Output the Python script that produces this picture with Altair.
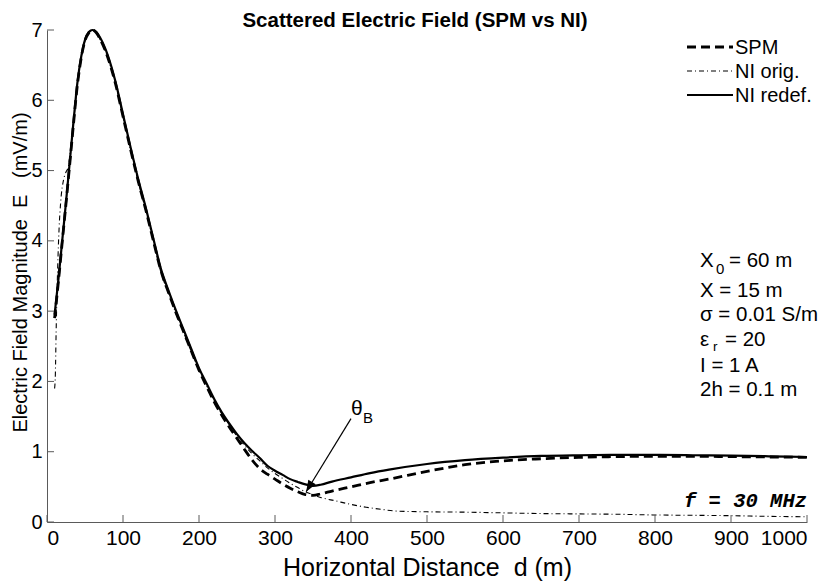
import altair as alt
import pandas as pd

# ---------------- data ----------------
d_main = [10, 15, 20, 25, 30, 35, 40, 45, 50, 55, 60, 65, 70, 80, 90, 100, 110, 120, 130, 140,
          150, 160, 170, 180, 190, 200, 210, 220, 230, 240, 250, 260, 270, 280, 290, 300, 310,
          320, 330, 340, 350, 360, 375, 400, 425, 450, 500, 550, 600, 650, 700, 750, 800, 850,
          900, 950, 1000]
e_redef = [2.95, 3.45, 4.0, 4.55, 5.13, 5.71, 6.25, 6.62, 6.86, 6.97, 7.0, 6.97, 6.89, 6.64, 6.27,
           5.80, 5.33, 4.88, 4.47, 4.03, 3.60, 3.29, 3.0, 2.73, 2.46, 2.19, 1.97, 1.75, 1.56, 1.40,
           1.25, 1.12, 1.01, 0.91, 0.80, 0.73, 0.67, 0.61, 0.57, 0.535, 0.515, 0.53, 0.575, 0.635,
           0.695, 0.745, 0.825, 0.88, 0.915, 0.94, 0.95, 0.955, 0.955, 0.95, 0.945, 0.935, 0.925]
e_spm = [2.9, 3.42, 3.98, 4.53, 5.1, 5.68, 6.22, 6.6, 6.85, 6.96, 7.0, 6.96, 6.87, 6.61, 6.24,
         5.77, 5.30, 4.85, 4.44, 4.00, 3.57, 3.26, 2.97, 2.70, 2.43, 2.16, 1.93, 1.71, 1.52, 1.35,
         1.19, 1.03, 0.88, 0.76, 0.68, 0.61, 0.54, 0.48, 0.43, 0.39, 0.38, 0.40, 0.44, 0.50,
         0.56, 0.61, 0.72, 0.815, 0.87, 0.90, 0.92, 0.93, 0.935, 0.935, 0.93, 0.925, 0.92]
d_orig = [10, 11, 12, 14, 16, 18, 22, 25, 28, 30, 35, 40, 45, 50, 55, 60, 65, 70, 80, 90,
          100, 110, 120, 130, 140, 150, 160, 170, 180, 190, 200, 210, 220, 230, 240, 250, 260,
          270, 280, 290, 300, 310, 320, 330, 340, 350, 360, 380, 400, 420, 440, 460, 500, 550,
          600, 650, 700, 750, 800, 850, 900, 950, 1000]
e_orig = [1.9, 2.1, 2.7, 3.6, 4.2, 4.55, 4.88, 4.98, 5.05, 5.2, 5.70, 6.24, 6.6, 6.85, 6.96,
          7.0, 6.96, 6.86, 6.6, 6.24, 5.76, 5.29, 4.84, 4.43, 3.99, 3.55, 3.25, 2.96, 2.69, 2.42,
          2.16, 1.94, 1.72, 1.54, 1.38, 1.22, 1.09, 0.97, 0.87, 0.77, 0.69, 0.62, 0.55, 0.49,
          0.43, 0.39, 0.35, 0.30, 0.25, 0.21, 0.18, 0.155, 0.145, 0.14, 0.13, 0.12, 0.115, 0.11,
          0.10, 0.095, 0.09, 0.08, 0.075]

series_names = ["SPM", "NI orig.", "NI redef."]
x_ticks = [0, 100, 200, 300, 400, 500, 600, 700, 800, 900, 1000]
y_ticks = [0, 1, 2, 3, 4, 5, 6, 7]
params = ["X", "X = 15 m", "\u03c3 = 0.01 S/m", "\u03b5", "I = 1 A", "2h = 0.1 m"]
title_text = "Scattered Electric Field (SPM vs NI)"

# arrow: start (near label) -> tip (Brewster minimum)
arrow_d = [400, 341]
arrow_e = [1.47, 0.43]

FONT = "Liberation Sans"
LEFT = 39           # page x of plot left = 8 + LEFT
W, H = 760, 492
AXC = "#5a5a5a"

xs = alt.Scale(domain=[0, 1000], nice=False, zero=False)
ys = alt.Scale(domain=[0, 7], nice=False, zero=False)

df_redef = pd.DataFrame({"d": d_main, "E": e_redef})
df_spm = pd.DataFrame({"d": d_main, "E": e_spm})
df_orig = pd.DataFrame({"d": d_orig, "E": e_orig})

xenc = alt.X("d:Q", scale=xs, axis=alt.Axis(
    values=x_ticks, format="d", ticks=False, tickSize=0, grid=False, domainColor=AXC,
    labelFont=FONT, labelFontSize=21, labelColor="black", labelPadding=5,
    title="Horizontal Distance\u00a0 d (m)", titleFont=FONT, titleFontSize=25,
    titleFontWeight="normal", titleColor="black", titlePadding=7))
yenc = alt.Y("E:Q", scale=ys, axis=alt.Axis(
    values=y_ticks, format="d", ticks=False, tickSize=0, grid=False, domainColor=AXC,
    labelFont=FONT, labelFontSize=20, labelColor="black", labelPadding=5,
    title="Electric Field Magnitude\u00a0 E\u00a0\u00a0 (mV/m)", titleFont=FONT,
    titleFontSize=20, titleFontWeight="normal", titleColor="black",
    titleX=-20.5, titleY=H / 2 - 4, titleAngle=270, titleBaseline="alphabetic",
    titleAlign="center"))

orig_line = alt.Chart(df_orig).mark_line(
    color="black", strokeWidth=1.1, strokeDash=[5, 3, 1, 3], interpolate="monotone"
).encode(x=xenc, y=yenc)
spm_line = alt.Chart(df_spm).mark_line(
    color="black", strokeWidth=2.8, strokeDash=[9, 5], interpolate="monotone"
).encode(x="d:Q", y="E:Q")
redef_line = alt.Chart(df_redef).mark_line(
    color="black", strokeWidth=2.2, interpolate="monotone"
).encode(x="d:Q", y="E:Q")

# inward ticks
xt = alt.Chart(pd.DataFrame({"t": x_ticks})).mark_rule(color=AXC, strokeWidth=1).encode(
    x="t:Q", y=alt.value(H), y2=alt.value(H - 7))
yt = alt.Chart(pd.DataFrame({"t": y_ticks})).mark_rule(color=AXC, strokeWidth=1).encode(
    y="t:Q", x=alt.value(0), x2=alt.value(7))

# arrow
adf = pd.DataFrame({"d": [arrow_d[0]], "E": [arrow_e[0]], "d2": [arrow_d[1]], "E2": [arrow_e[1]]})
arrow_line = alt.Chart(adf).mark_rule(color="black", strokeWidth=1.2).encode(
    x="d:Q", y="E:Q", x2="d2:Q", y2="E2:Q")
arrow_head = alt.Chart(pd.DataFrame({"d": [arrow_d[1]], "E": [arrow_e[1]]})).mark_point(
    shape="M0,0L0.38,1L-0.38,1Z", filled=True, size=520, angle=211, color="black", opacity=1
).encode(x="d:Q", y="E:Q")

one = pd.DataFrame({"k": [0]})


def txt(s, x, y, size=21, font=FONT, align="left", **kw):
    return alt.Chart(one).mark_text(text=s, font=font, fontSize=size, align=align,
                                    baseline="alphabetic", color="black", **kw).encode(
        x=alt.value(x), y=alt.value(y))


layers = [orig_line, spm_line, redef_line, xt, yt, arrow_line, arrow_head]

# title (page x centre ~415)
layers.append(txt(title_text, 415 - 8 - LEFT, -3, size=20.5, align="center", fontWeight="bold"))

# theta_B label
layers.append(txt("\u03b8", 304, 385))
layers.append(txt("B", 316, 393, size=15))

# parameter block (plot-relative; page x 700)
px0 = 700 - 8 - LEFT
layers.append(txt(params[0], px0, 237, size=20.5))
layers.append(txt("0", px0 + 16, 244, size=15))
layers.append(txt("= 60 m", px0 + 29, 237, size=20.5))
layers.append(txt(params[1], px0, 267, size=20.5))
layers.append(txt(params[2], px0, 291, size=20.5))
layers.append(txt(params[3], px0, 316, size=20.5))
layers.append(txt("r", px0 + 13, 320.5, size=13.5))
layers.append(txt("= 20", px0 + 25, 316, size=20.5))
layers.append(txt(params[4], px0, 341.5, size=20.5))
layers.append(txt(params[5], px0, 366, size=20.5))

# frequency label
layers.append(txt("f = 30 MHz", W, 477, size=20.5, font="Liberation Mono", align="right",
                  fontWeight="bold", fontStyle="italic"))

# legend (page x 687..733)
lx1, lx2 = 687 - 8 - LEFT, 733 - 8 - LEFT
rows = [24, 48, 72]
styles = [dict(strokeWidth=2.8, strokeDash=[9, 5]),
          dict(strokeWidth=1.1, strokeDash=[5, 3, 1, 3]),
          dict(strokeWidth=2.2)]
for name, ry, st in zip(series_names, rows, styles):
    layers.append(alt.Chart(one).mark_rule(color="black", **st).encode(
        x=alt.value(lx1), x2=alt.value(lx2), y=alt.value(ry - 7)))
    layers.append(txt(name, lx2 + 2, ry, size=20))

chart = alt.layer(*layers).properties(
    width=W, height=H,
    autosize=alt.AutoSizeParams(type="none"),
    padding={"left": LEFT, "top": 22, "right": 12, "bottom": 60},
    background="white",
).configure_view(stroke=None)

chart.save("out.html", embed_options={"renderer": "svg", "actions": False})
